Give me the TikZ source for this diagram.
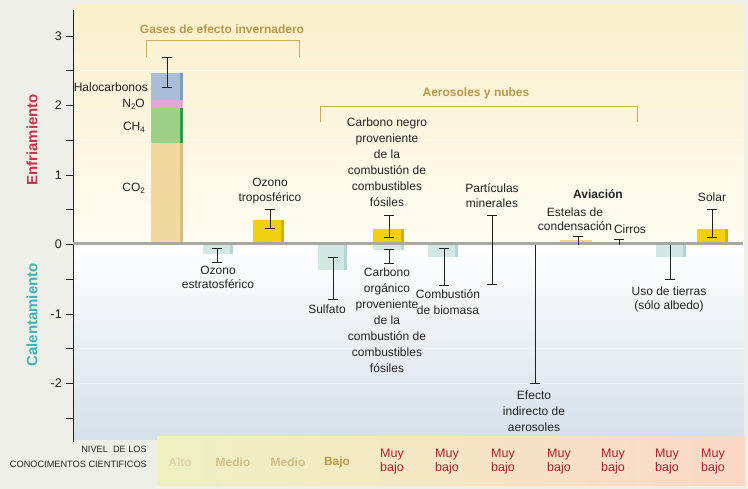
\documentclass[tikz,border=0pt]{standalone}
\usepackage{fontspec}
\setmainfont{Liberation Sans}
\definecolor{bgout}{HTML}{EFEFE9}
\definecolor{plotA}{HTML}{FBF0CC}
\definecolor{plotB}{HTML}{FFFCF2}
\definecolor{plotC}{HTML}{D6E0EA}
\definecolor{co2}{HTML}{F1D9A0}
\definecolor{co2e}{HTML}{D6BD82}
\definecolor{ch4}{HTML}{9CCF88}
\definecolor{ch4e}{HTML}{2E9A48}
\definecolor{n2o}{HTML}{E0A6D6}
\definecolor{halo}{HTML}{A9BFD9}
\definecolor{haloe}{HTML}{7F9CC0}
\definecolor{yel}{HTML}{F2CF10}
\definecolor{yele}{HTML}{D6B000}
\definecolor{pyel}{HTML}{F0DC70}
\definecolor{teal}{HTML}{D2E8E4}
\definecolor{teale}{HTML}{B2D6D2}
\definecolor{brk}{HTML}{C8B060}
\definecolor{brktxt}{HTML}{B89A48}
\definecolor{enf}{HTML}{C8324A}
\definecolor{cal}{HTML}{3FB2B5}
\definecolor{muy}{HTML}{B0202A}
\definecolor{bandL}{HTML}{EEF0C2}
\definecolor{bandM}{HTML}{F5E6C4}
\definecolor{bandR}{HTML}{FAD8C8}
\definecolor{zero}{HTML}{A8A8A2}
\definecolor{ink}{HTML}{222222}
\newcommand{\sbs}[1]{\raisebox{-0.3ex}{\fontsize{8}{8}\selectfont #1}}
\newcommand{\errbar}[3]{\draw[errb] (#1-5,#2) -- (#1+5,#2) (#1,#2) -- (#1,#3) (#1-5,#3) -- (#1+5,#3);}
\newcommand{\colbar}[6]{\fill[#5] (#1,#3) rectangle (#2,#4); \fill[#6] (#2-3,#3) rectangle (#2,#4);}
\begin{document}
\begin{tikzpicture}[x=1pt,y=-1pt,
  txt/.style={font=\fontsize{12}{16}\selectfont, align=center, inner sep=0pt, text=ink},
  errb/.style={line width=0.9pt, draw=ink},
  brack/.style={line width=1pt, draw=brk},
  brtxt/.style={font=\bfseries\fontsize{12}{14}\selectfont, text=brktxt, inner sep=0pt},
  tick/.style={line width=0.8pt, draw=ink},
  ticklbl/.style={font=\fontsize{12.5}{14}\selectfont, text=ink, anchor=east, inner sep=0pt},
  lvl/.style={font=\bfseries\fontsize{12}{14}\selectfont, inner sep=0pt, align=center},
  muyb/.style={font=\fontsize{12.5}{14}\selectfont, text=muy, inner sep=0pt, align=center}]
\useasboundingbox (0,0) rectangle (748,489);
\fill[bgout] (0,0) rectangle (748,489);
% plot area
\shade[top color=plotA, bottom color=plotB] (74,5) rectangle (744,244);
\shade[top color=white, bottom color=plotC] (74,244) rectangle (744,440);
\foreach \yy in {70,140} \draw[white!60!plotA, line width=0.8pt] (74,\yy) -- (744,\yy);
\foreach \yy in {348,383} \draw[white!60!plotC, line width=0.8pt] (74,\yy) -- (744,\yy);
% level band
\shade[left color=bandL, right color=bandR, middle color=bandM] (157,437) rectangle (745,485);
% axis
\draw[line width=1pt, draw=ink] (73,10) -- (73,442);
\foreach \yy in {36,70,105,140,175,209,244,279,314,348,383,418}
  \draw[tick] (66,\yy) -- (73,\yy);
\node[ticklbl] (t3) at (62,36) {3};
\node[ticklbl] (t2) at (62,105) {2};
\node[ticklbl] (t1) at (62,175) {1};
\node[ticklbl] (t0) at (62,244) {0};
\node[ticklbl] (tm1) at (62,314) {-1};
\node[ticklbl] (tm2) at (62,383) {-2};
\node[rotate=90, font=\bfseries\fontsize{15}{16}\selectfont, text=enf, inner sep=0pt] (enf) at (32,140) {Enfriamiento};
\node[rotate=90, font=\bfseries\fontsize{15}{16}\selectfont, text=cal, inner sep=0pt] (cal) at (32,315) {Calentamiento};
% brackets
\draw[brack] (146,57) -- (146,41) -- (299,41) -- (299,57);
\node[brtxt] (gases) at (222,29) {Gases de efecto invernadero};
\draw[brack] (320,122) -- (320,107) -- (637,107) -- (637,122);
\node[brtxt] (aero) at (476,93) {Aerosoles y nubes};
% stacked bar
\fill[co2] (151,143) rectangle (183,244);
\fill[co2e] (180,143) rectangle (183,244);
\fill[ch4] (151,108) rectangle (183,143);
\fill[ch4e] (180,108) rectangle (183,143);
\fill[n2o] (151,100) rectangle (183,108);
\fill[halo] (151,73) rectangle (183,100);
\fill[haloe] (180,73) rectangle (183,100);
\errbar{167}{57}{87}
% other bars
\colbar{203}{233}{244}{254}{teal}{teale}
\colbar{253}{284}{220}{244}{yel}{yele}
\colbar{318}{347}{244}{270}{teal}{teale}
\colbar{373}{404}{229}{244}{yel}{yele}
\colbar{373}{404}{244}{250}{teal}{teale}
\colbar{428}{458}{244}{257}{teal}{teale}
\colbar{560}{592}{240}{244}{pyel}{pyel}
\colbar{656}{686}{244}{257}{teal}{teale}
\colbar{697}{728}{229}{244}{yel}{yele}
% zero line
\draw[zero, line width=3pt] (73,244) -- (743,244);
% error bars
\errbar{217}{248}{262}
\errbar{270}{209}{228}
\errbar{333}{257}{299}
\errbar{389}{215}{237}
\errbar{389}{249}{263}
\errbar{444}{248}{285}
\errbar{492}{215}{284}
\draw[errb] (535,245) -- (535,383) (530,383) -- (540,383);
\draw[errb] (578,245) -- (578,236) (573,236) -- (583,236);
\draw[errb] (619,245) -- (619,239) (614,239) -- (624,239);
\draw[errb] (670,245) -- (670,279) (665,279) -- (675,279);
\errbar{712}{209}{237}
% labels
\node[txt, anchor=east] (lhalo) at (148,87) {Halocarbonos};
\node[txt, anchor=east] (ln2o) at (145,104) {N\sbs{2}O};
\node[txt, anchor=east] (lch4) at (145,127) {CH\sbs{4}};
\node[txt, anchor=east] (lco2) at (145,188) {CO\sbs{2}};
\node[txt, font=\fontsize{12}{15}\selectfont] (ltro) at (270,191) {Ozono\\troposférico};
\node[txt, font=\fontsize{12}{14}\selectfont] (lestr) at (218,277) {Ozono\\estratosférico};
\node[txt] (lsulf) at (327,309) {Sulfato};
\node[txt] (lcneg) at (387,162) {Carbono negro\\proveniente\\de la\\combustión de\\combustibles\\fósiles};
\node[txt] (lcorg) at (387,320) {Carbono\\orgánico\\proveniente\\de la\\combustión de\\combustibles\\fósiles};
\node[txt] (lbio) at (448,302) {Combustión\\de biomasa};
\node[txt, font=\fontsize{12}{15}\selectfont] (lmin) at (492,196) {Partículas\\minerales};
\node[txt] (lind) at (534,411) {Efecto\\indirecto de\\aerosoles};
\node[txt, font=\bfseries\fontsize{12}{14}\selectfont] (lavi) at (598,194) {Aviación};
\node[txt, font=\fontsize{12}{14}\selectfont] (lest) at (575,219) {Estelas de\\condensación};
\node[txt] (lcir) at (630,229) {Cirros};
\node[txt, font=\fontsize{12}{14}\selectfont] (luso) at (669,299) {Uso de tierras\\(sólo albedo)};
\node[txt] (lsol) at (712,197) {Solar};
% level row
\node[font=\fontsize{9.2}{15}\selectfont, align=right, anchor=east, inner sep=0pt, text=ink] (nivel) at (147,457) {NIVEL\ \ DE LOS\\CONOCIMENTOS CIENTIFICOS};
\node[lvl, text=white!55!brktxt] (n1) at (180,462) {Alto};
\node[lvl, text=white!35!brktxt] (n2) at (233,462) {Medio};
\node[lvl, text=white!35!brktxt] (n3) at (288,462) {Medio};
\node[lvl, text=brktxt] (n4) at (337,462) {Bajo};
\node[muyb] (n5) at (392,461) {Muy\\bajo};
\node[muyb] (n6) at (447,461) {Muy\\bajo};
\node[muyb] (n7) at (503,461) {Muy\\bajo};
\node[muyb] (n8) at (559,461) {Muy\\bajo};
\node[muyb] (n9) at (613,461) {Muy\\bajo};
\node[muyb] (n10) at (667,461) {Muy\\bajo};
\node[muyb] (n11) at (713,461) {Muy\\bajo};
\end{tikzpicture}
\end{document}
